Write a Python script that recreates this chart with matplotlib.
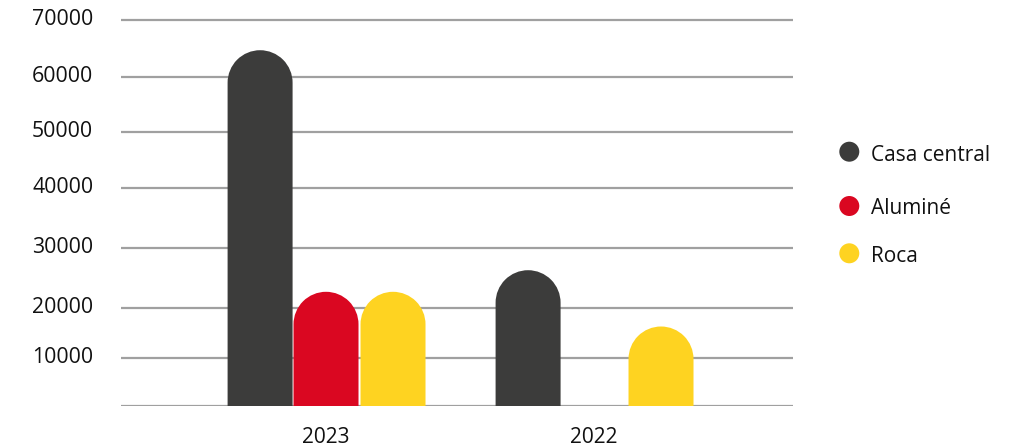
import numpy as np
import matplotlib
matplotlib.use("Agg")
import matplotlib.pyplot as plt
from matplotlib.path import Path
from matplotlib.patches import PathPatch, Circle
from matplotlib.transforms import IdentityTransform, ScaledTranslation

# ---- data ----
years = ["2023", "2022"]
series = ["Casa central", "Aluminé", "Roca"]
casa_central = [64700, 26300]
alumine = [22700, 0]
roca = [22700, 16300]
colors = ["#3c3c3b", "#da0721", "#fed321"]
ytick_values = [0, 10000, 20000, 30000, 40000, 50000, 60000, 70000]
ytick_labels = ["", "10000", "20000", "30000", "40000", "50000", "60000", "70000"]

# the reference axis has uneven grid spacing; reproduce it with a piecewise scale
scale_vals = np.array([0, 10000, 20000, 30000, 40000, 50000, 60000, 70000, 80000], float)
scale_pos = np.array([0, 48, 98, 158, 218, 274, 329, 386, 443], float)


def fwd(v):
    return np.interp(v, scale_vals, scale_pos)


def inv(p):
    return np.interp(p, scale_pos, scale_vals)


W, H = 1016, 448
fig = plt.figure(figsize=(W / 100, H / 100), dpi=100)

ytop = 72000
ax_left, ax_right, ax_base = 121, 793, 406
ax_h = float(fwd(ytop))
ax = fig.add_axes([ax_left / W, (H - ax_base) / H, (ax_right - ax_left) / W, ax_h / H])
ax.set_yscale("function", functions=(fwd, inv))
ax.set_ylim(0, ytop)
ax.set_xlim(-0.765, 1.7425)

for s in ax.spines.values():
    s.set_visible(False)

ax.set_yticks(ytick_values)
ax.set_yticklabels(ytick_labels, fontsize=15.3, family="Open Sans", color="#111111")
ax.yaxis.grid(True, color="#a0a0a0", linewidth=1.6)
ax.set_axisbelow(True)
ax.tick_params(axis="y", length=0, pad=20)
for lab in ax.get_yticklabels():
    lab.set_transform(lab.get_transform() + ScaledTranslation(0, 0.035, fig.dpi_scale_trans))

x = np.arange(len(years))
ax.set_xticks(x)
ax.set_xticklabels(years, fontsize=15, family="Open Sans", color="#111111")
ax.tick_params(axis="x", length=0, pad=15)

bar_w = 0.2425
offsets = [-0.246, 0.0, 0.250]
all_vals = [casa_central, alumine, roca]

fig.canvas.draw()
arc = Path.arc(0, 180)
for k, (vals, col, off) in enumerate(zip(all_vals, colors, offsets)):
    for i, v in enumerate(vals):
        if v <= 0:
            continue
        (x0, y0) = ax.transData.transform((x[i] + off - bar_w / 2, 0))
        (x1, yt) = ax.transData.transform((x[i] + off + bar_w / 2, v))
        r = (x1 - x0) / 2
        xc = (x0 + x1) / 2
        arc_v = arc.vertices * r + np.array([xc, yt - r])
        verts = [(x0, y0), (x1, y0)] + [tuple(p) for p in arc_v] + [(x0, y0)]
        codes = [Path.MOVETO, Path.LINETO, Path.LINETO] + list(arc.codes[1:]) + [Path.CLOSEPOLY]
        patch = PathPatch(Path(verts, codes), transform=IdentityTransform(),
                          facecolor=col, edgecolor="none", zorder=3)
        fig.add_artist(patch)

# legend
leg_cy = [151.7, 206, 253.3]
leg_base = [160.5, 214, 261.5]
for name, col, cy, by in zip(series, colors, leg_cy, leg_base):
    fig.add_artist(Circle((849.3, H - cy), 10, transform=IdentityTransform(),
                          facecolor=col, edgecolor="none"))
    fig.text(871 / W, (H - by) / H, name, fontsize=15, family="Open Sans",
             va="baseline", ha="left", color="#111111")

fig.savefig("out.png", dpi=100)
